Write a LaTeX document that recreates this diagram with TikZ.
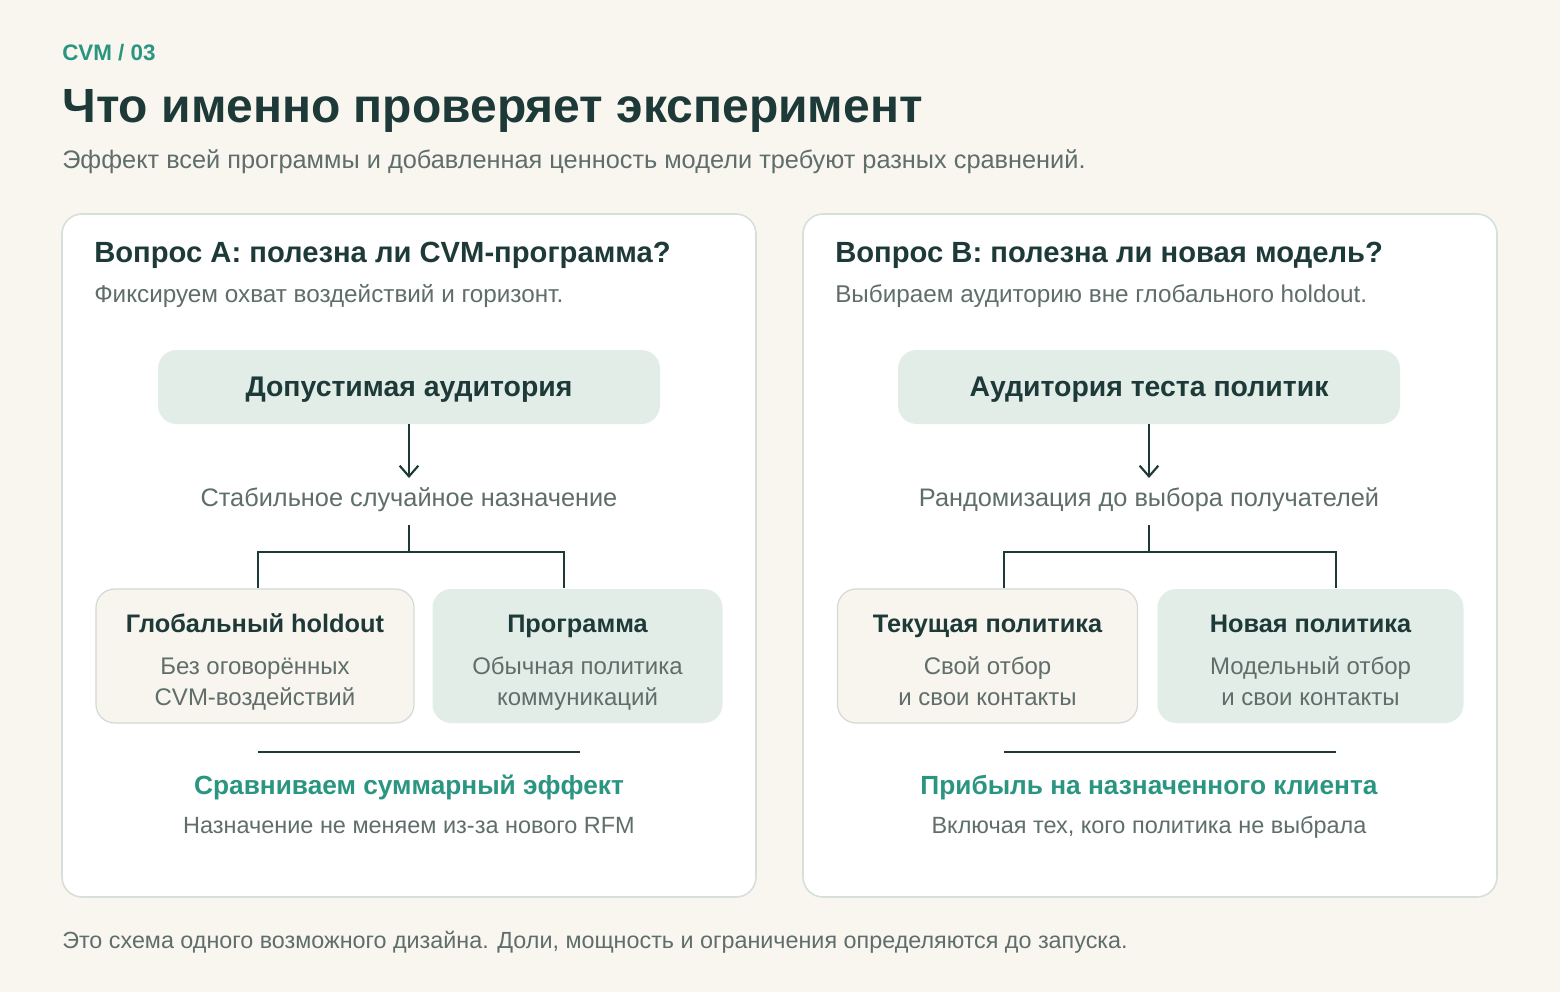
\documentclass[tikz,border=0pt]{standalone}
\usepackage{fontspec}
\setmainfont{Liberation Sans}
\usetikzlibrary{arrows.meta}
\definecolor{bg}{HTML}{F9F6F0}
\definecolor{dark}{HTML}{1E3A38}
\definecolor{teal}{HTML}{2A9580}
\definecolor{gray}{HTML}{5F6E6B}
\definecolor{pborder}{HTML}{D6DFDA}
\definecolor{tfill}{HTML}{E2EDE8}
\definecolor{bfill}{HTML}{F8F5EE}
\definecolor{bborder}{HTML}{D3DAD4}
\begin{document}
\begin{tikzpicture}[x=0.75pt,y=-0.75pt,
  panel/.style={draw=pborder,line width=1.2pt,fill=white,rounded corners=15pt},
  topbox/.style={fill=tfill,rounded corners=14pt,minimum width=376.5pt,minimum height=55.5pt},
  toptext/.style={anchor=base,inner sep=0pt,font=\fontsize{21.3}{24}\selectfont\bfseries,text=dark},
  leaf/.style={rounded corners=14pt,minimum height=100.5pt,inner sep=0pt},
  beige/.style={leaf,fill=bfill,draw=bborder,line width=0.9pt},
  green/.style={leaf,fill=tfill},
  lt/.style={anchor=base,inner sep=0pt,font=\fontsize{19}{22}\selectfont\bfseries,text=dark},
  ls/.style={anchor=base,inner sep=0pt,font=\fontsize{18}{22}\selectfont,text=gray},
  cb/.style={anchor=base,inner sep=0pt},
  conn/.style={draw=dark,line width=1.6pt},
  txt/.style={anchor=base west,inner sep=0pt}]
\fill[bg] (0,0) rectangle (1560,992);
\useasboundingbox (0,0) rectangle (1560,992);
\node[txt,text=teal,font=\fontsize{16.8}{18}\selectfont\bfseries] (tag) at (62,60) {CVM / 03};
\node[txt,text=dark,font=\fontsize{36}{40}\selectfont\bfseries] (title) at (62,122) {Что именно проверяет эксперимент};
\node[txt,text=gray,font=\fontsize{19}{22}\selectfont] (sub) at (62,168) {Эффект всей программы и добавленная ценность модели требуют разных сравнений.};
\node[txt,text=gray,font=\fontsize{17.5}{20}\selectfont] (foot) at (62,948) {Это схема одного возможного дизайна. Доли, мощность и ограничения определяются до запуска.};

\draw[panel] (62,214) rectangle (756,897);
\draw[panel] (803,214) rectangle (1497,897);

% Left panel
\node[txt,text=dark,font=\fontsize{21.9}{24}\selectfont\bfseries] (qa) at (94,262) {Вопрос А: полезна ли CVM-программа?};
\node[txt,text=gray,font=\fontsize{18.2}{20}\selectfont] (qas) at (94,302) {Фиксируем охват воздействий и горизонт.};
\node[topbox] (ta) at (409,387) {};
\node[toptext] (tat) at (409,396) {Допустимая аудитория};
\node[cb,font=\fontsize{19}{22}\selectfont,text=gray] (la) at (409,506) {Стабильное случайное назначение};
\coordinate (ja) at (409,552);
\node[beige,minimum width=238.5pt] (ba) at (255,656) {};
\node[lt] (ba1) at (255,632) {Глобальный holdout};
\node[ls] (ba2) at (255,674) {Без оговорённых};
\node[ls] (ba3) at (255,705) {CVM-воздействий};
\node[green,minimum width=217.5pt] (ga) at (577.5,656) {};
\node[lt] (ga1) at (577.5,632) {Программа};
\node[ls] (ga2) at (577.5,674) {Обычная политика};
\node[ls] (ga3) at (577.5,705) {коммуникаций};
\draw[conn,-{Straight Barb[length=8pt,width=14pt]}] (ta.south) -- (409,478);
\draw[conn] (409,525) -- (ja);
\draw[conn] (258,588) -- (258,552) -- (564,552) -- (564,588);
\draw[conn] (258,752) -- (580,752);
\node[cb,font=\fontsize{19.7}{22}\selectfont\bfseries,text=teal] (ra) at (409,794) {Сравниваем суммарный эффект};
\node[cb,font=\fontsize{17.6}{20}\selectfont,text=gray] (rsa) at (409,833) {Назначение не меняем из-за нового RFM};

% Right panel
\node[txt,text=dark,font=\fontsize{21.9}{24}\selectfont\bfseries] (qb) at (835,262) {Вопрос B: полезна ли новая модель?};
\node[txt,text=gray,font=\fontsize{18.2}{20}\selectfont] (qbs) at (835,302) {Выбираем аудиторию вне глобального holdout.};
\node[topbox] (tb) at (1149,387) {};
\node[toptext] (tbt) at (1149,396) {Аудитория теста политик};
\node[cb,font=\fontsize{19}{22}\selectfont,text=gray] (lb) at (1149,506) {Рандомизация до выбора получателей};
\coordinate (jb) at (1149,552);
\node[beige,minimum width=225pt] (bb) at (987.5,656) {};
\node[lt] (bb1) at (987.5,632) {Текущая политика};
\node[ls] (bb2) at (987.5,674) {Свой отбор};
\node[ls] (bb3) at (987.5,705) {и свои контакты};
\node[green,minimum width=229.5pt] (gb) at (1310.5,656) {};
\node[lt] (gb1) at (1310.5,632) {Новая политика};
\node[ls] (gb2) at (1310.5,674) {Модельный отбор};
\node[ls] (gb3) at (1310.5,705) {и свои контакты};
\draw[conn,-{Straight Barb[length=8pt,width=14pt]}] (tb.south) -- (1149,478);
\draw[conn] (1149,525) -- (jb);
\draw[conn] (1004,588) -- (1004,552) -- (1336,552) -- (1336,588);
\draw[conn] (1004,752) -- (1336,752);
\node[cb,font=\fontsize{19.7}{22}\selectfont\bfseries,text=teal] (rb) at (1149,794) {Прибыль на назначенного клиента};
\node[cb,font=\fontsize{17.6}{20}\selectfont,text=gray] (rsb) at (1149,833) {Включая тех, кого политика не выбрала};
\end{tikzpicture}
\end{document}
